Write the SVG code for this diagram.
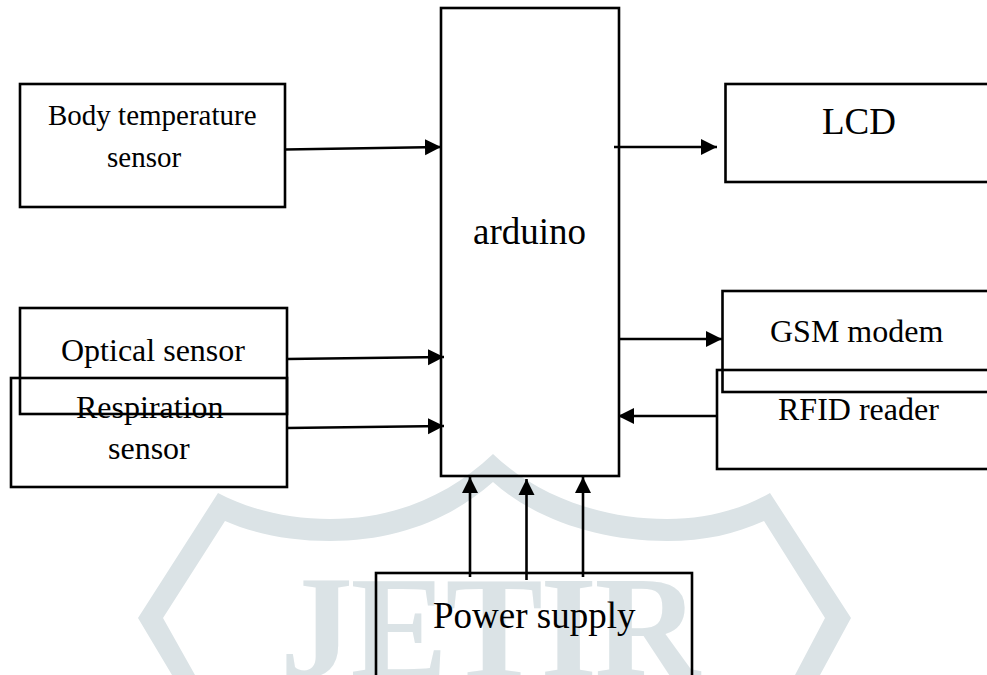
<svg xmlns="http://www.w3.org/2000/svg" width="987" height="675" viewBox="0 0 987 675">
<style>
.box{fill:none;stroke:#000;stroke-width:2.6}
.wire{fill:none;stroke:#000;stroke-width:2.6;marker-end:url(#head)}
text{font-family:"Liberation Serif","Times New Roman",serif;fill:#000}
.s29{font-size:29px}.s32{font-size:32px}.s37{font-size:37px}
</style>
<defs>
<marker id="head" markerUnits="userSpaceOnUse" markerWidth="18" markerHeight="18" refX="16" refY="9" orient="auto"><path d="M0 1L16 9L0 17Z" fill="#000"/></marker>
</defs>
<rect width="987" height="675" fill="#fff"/>
<g id="watermark">
<path d="M493 454C450 495 395 519 330 519C290 519 250 510 218 493L138 618L172 675L195 675L163 618L225 521C255 534 290 541 330 541C395 541 450 520 493 482C536 520 600 541 667 541C705 541 735 534 764 521L825 618L795 675L820 675L851 618L770 493C740 510 705 519 667 519C600 519 536 495 493 454Z" fill="#dbe3e6"/>
<text x="280" y="677" font-size="146" font-weight="bold" letter-spacing="-2.500" style="fill:#dbe3e6">JETIR</text>
</g>
<g id="connectors">
<path class="wire" d="M285 149.500L441 147"/>
<path class="wire" d="M287 359L444 357"/>
<path class="wire" d="M287 428L444 426"/>
<path class="wire" d="M614 147L717 147"/>
<path class="wire" d="M619 339L722 339"/>
<path class="wire" d="M717 416L618 416"/>
<path class="wire" d="M470 577L470 477"/>
<path class="wire" d="M526.500 580L526.500 479"/>
<path class="wire" d="M583 577L583 477"/>
</g>
<g id="body-temperature-sensor"><rect class="box" x="20" y="84" width="265" height="123"/><text class="s29" x="48" y="125">Body temperature</text><text class="s29" x="107" y="167">sensor</text></g>
<g id="optical-sensor"><rect class="box" x="20" y="308" width="267" height="106"/><text class="s32" x="61" y="361">Optical sensor</text></g>
<g id="respiration-sensor"><rect class="box" x="11" y="378" width="276" height="109"/><text class="s32" x="76" y="418">Respiration</text><text class="s32" x="108" y="459">sensor</text></g>
<g id="arduino"><rect class="box" x="441" y="8" width="178" height="468"/><text class="s37" x="473" y="244">arduino</text></g>
<g id="lcd"><rect class="box" x="725.500" y="84" width="270" height="98"/><text class="s37" x="822" y="134">LCD</text></g>
<g id="gsm-modem"><rect class="box" x="722.500" y="291" width="272" height="101"/><text class="s32" x="770" y="342">GSM modem</text></g>
<g id="rfid-reader"><rect class="box" x="717" y="370" width="278" height="99"/><text class="s32" x="778" y="420">RFID reader</text></g>
<g id="power-supply"><rect class="box" x="376" y="573" width="316" height="120"/><text class="s37" x="433" y="628">Power supply</text></g>
</svg>
